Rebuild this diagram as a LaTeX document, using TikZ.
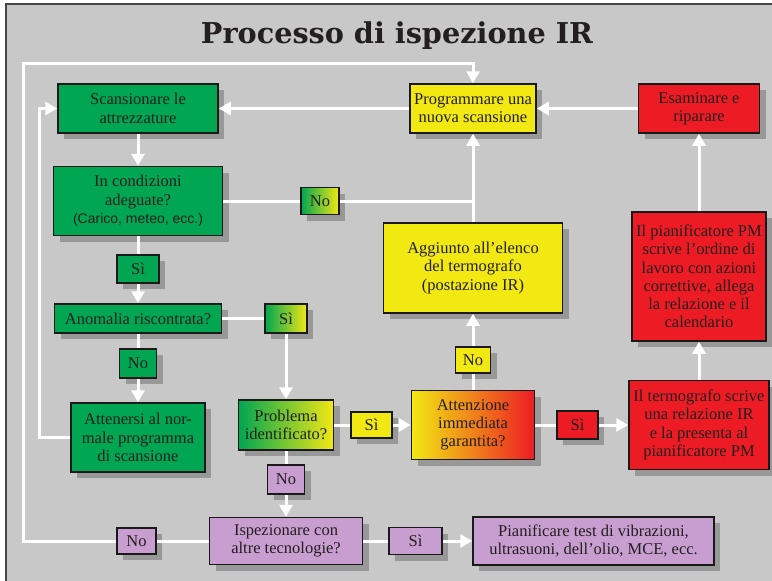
\documentclass[tikz,border=0pt]{standalone}
\usepackage{fontspec}
\setmainfont{Liberation Serif}
\newfontfamily\titlefont{DejaVu Serif}
\newfontfamily\notefont{Liberation Sans}
\usetikzlibrary{arrows.meta,shadows}

\definecolor{irgreen}{RGB}{0,166,81}
\definecolor{iryellow}{RGB}{242,232,18}
\definecolor{irorange}{RGB}{245,145,30}
\definecolor{irred}{RGB}{237,28,36}
\definecolor{irlilac}{RGB}{200,158,208}
\definecolor{irbg}{RGB}{200,200,200}
\definecolor{irshadow}{RGB}{152,152,152}
\definecolor{irframe}{RGB}{70,70,70}
\definecolor{irink}{RGB}{35,31,32}

\begin{document}
\begin{tikzpicture}[
    x=1pt, y=-1pt,
    font=\fontsize{16.5}{18.3}\selectfont,
    >={Triangle[length=12pt,width=13pt]},
    box/.style={draw=black!90, line width=1.5pt, align=center, inner sep=2pt, text=irink,
                drop shadow={opacity=1,fill=irshadow,shadow xshift=6pt,shadow yshift=-6pt}},
    okbox/.style={box, fill=irgreen},
    ylwbox/.style={box, fill=iryellow},
    redbox/.style={box, fill=irred},
    lilbox/.style={box, fill=irlilac},
    mixbox/.style={box, left color=irgreen, right color=iryellow},
    tag/.style={minimum width=40pt, minimum height=27pt, inner sep=1pt},
    flow/.style={->, draw=white, line width=3pt},
    wire/.style={draw=white, line width=3pt},
]
\useasboundingbox (0,0) rectangle (772,581);

% ---- Frame + title ------------------------------------------------
\fill[white] (0,0) rectangle (772,581);
\fill[irbg] (5,3) rectangle (772,581);
\draw[irframe, line width=2pt] (6,581) -- (6,4) -- (772,4);
\node[font=\titlefont\bfseries\fontsize{28.7}{31}\selectfont, text=irink, anchor=base]
    (title) at (397,43) {Processo di ispezione IR};

% ---- Routine scan (left column) -----------------------------------
\node[okbox, minimum width=160pt, minimum height=49pt] (scan) at (138,108.5) {Scansionare le\\attrezzature};
\node[okbox, minimum width=169pt, minimum height=69pt] (cond) at (138,201)
    {In condizioni\\adeguate?\\{\notefont\fontsize{14}{18.3}\selectfont (Carico, meteo, ecc.)}};
\node[okbox, minimum width=167pt, minimum height=29pt] (anom) at (138,318.5) {Anomalia riscontrata?};
\node[okbox, minimum width=134pt, minimum height=69pt] (keep) at (138,437.5) {Attenersi al nor-\\male programma\\di scansione};

% ---- Schedule + findings ------------------------------------------
\node[ylwbox, minimum width=126pt, minimum height=49pt] (prog) at (473,108.5) {Programmare una\\nuova scansione};
\node[ylwbox, minimum width=179pt, minimum height=90pt] (list) at (473,268) {Aggiunto all'elenco\\del termografo\\(postazione IR)};
\node[mixbox, minimum width=95pt, minimum height=50pt] (prob) at (286,425) {Problema\\identificato?};
\node[box, left color=iryellow, middle color=irorange, right color=irred,
      minimum width=123pt, minimum height=69pt] (urgent) at (473,425) {Attenzione\\immediata\\garantita?};

% ---- Repair path (right column) -----------------------------------
\node[redbox, minimum width=121pt, minimum height=49pt] (fix) at (699,108.5) {Esaminare e\\riparare};
\node[redbox, minimum width=134pt, minimum height=129pt] (order) at (699,276.5)
    {Il pianificatore PM\\scrive l'ordine di\\lavoro con azioni\\correttive, allega\\la relazione e il\\calendario};
\node[redbox, minimum width=140pt, minimum height=89pt] (report) at (699,425)
    {Il termografo scrive\\una relazione IR\\e la presenta al\\pianificatore PM};

% ---- Other technologies (bottom row) ------------------------------
\node[lilbox, minimum width=153pt, minimum height=47pt] (other) at (286,541) {Ispezionare con\\altre tecnologie?};
\node[lilbox, minimum width=241pt, minimum height=48pt] (tests) at (593.5,541)
    {Pianificare test di vibrazioni,\\ultrasuoni, dell'olio, MCE, ecc.};

% ---- Answer tags --------------------------------------------------
\node[mixbox, tag, minimum width=38pt] (noCond) at (320,201) {No};
\node[okbox, tag, minimum width=42pt, minimum height=28pt] (siCond) at (138,269) {Sì};
\node[mixbox, tag, minimum width=42pt, minimum height=29pt] (siAnom) at (286,318.5) {Sì};
\node[okbox, tag, minimum width=37pt, minimum height=29pt] (noAnom) at (138,363.5) {No};
\node[ylwbox, tag, minimum width=35pt, minimum height=26pt] (noUrg) at (473,360) {No};
\node[ylwbox, tag, minimum width=41pt, minimum height=26pt] (siProb) at (371.5,425) {Sì};
\node[redbox, tag, minimum width=41pt, minimum height=28pt] (siUrg) at (577.5,425) {Sì};
\node[lilbox, tag, minimum width=37pt, minimum height=29pt] (noProb) at (286,479.5) {No};
\node[lilbox, tag, minimum width=39pt, minimum height=26pt] (noOther) at (136.5,541) {No};
\node[lilbox, tag, minimum width=53pt, minimum height=27pt] (siOther) at (415.5,541) {Sì};

% ---- Loop coordinates ---------------------------------------------
\coordinate (innerloop) at (39,0);
\coordinate (outerloop) at (23,63);

% ---- Edges --------------------------------------------------------
\draw[flow] (scan) -- (cond);
\draw[wire] (cond) -- (noCond);
\draw[wire] (noCond) -- (noCond -| list);
\draw[flow] (list) -- (prog);
\draw[wire] (cond) -- (siCond);
\draw[flow] (siCond) -- (anom);
\draw[wire] (anom) -- (siAnom);
\draw[flow] (siAnom) -- (prob);
\draw[wire] (anom) -- (noAnom);
\draw[flow] (noAnom) -- (keep);
\draw[flow] (keep.west) -- (keep.west -| innerloop) |- (scan.west);

\draw[wire] (prob) -- (siProb);
\draw[flow] (siProb) -- (urgent);
\draw[wire] (prob) -- (noProb);
\draw[flow] (noProb) -- (other);
\draw[wire] (urgent) -- (noUrg);
\draw[flow] (noUrg) -- (list);
\draw[wire] (urgent) -- (siUrg);
\draw[flow] (siUrg) -- (report);
\draw[flow] (report) -- (order);
\draw[flow] (order) -- (fix);
\draw[flow] (fix) -- (prog);
\draw[flow] (prog) -- (scan);

\draw[wire] (other) -- (siOther);
\draw[flow] (siOther) -- (tests);
\draw[wire] (other) -- (noOther);
\draw[flow] (noOther) -| (outerloop) -| (prog.north);

\end{tikzpicture}
\end{document}
